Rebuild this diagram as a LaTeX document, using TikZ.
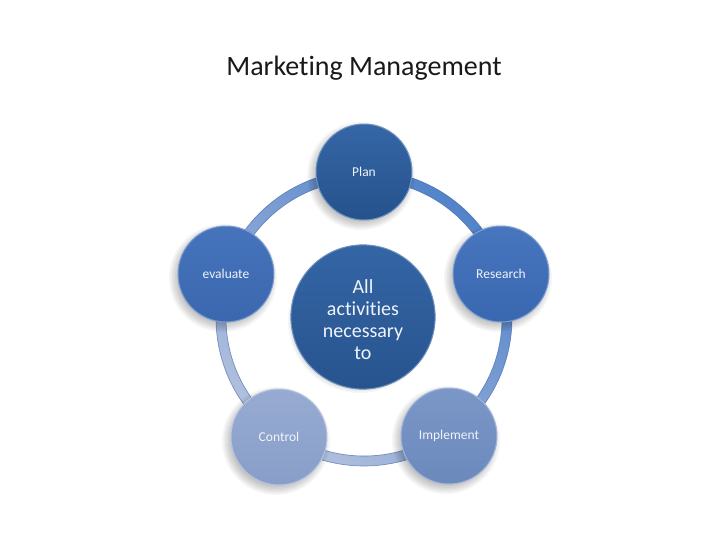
\documentclass[tikz,border=0pt]{standalone}
\usepackage{fontspec}
\setmainfont{Carlito}[Ligatures=NoCommon]
\definecolor{plantop}{HTML}{3566A6}\definecolor{planbot}{HTML}{25528C}
\definecolor{restop}{HTML}{4876BE}\definecolor{resbot}{HTML}{3A68B0}
\definecolor{evtop}{HTML}{4674BC}\definecolor{evbot}{HTML}{3A67AE}
\definecolor{imptop}{HTML}{7B97C8}\definecolor{impbot}{HTML}{6C89BC}
\definecolor{contop}{HTML}{97ABD2}\definecolor{conbot}{HTML}{889EC8}
\definecolor{centop}{HTML}{3465A5}\definecolor{cenbot}{HTML}{27548E}
\definecolor{ringblue}{HTML}{5283CA}\definecolor{ringlight}{HTML}{B3C1DE}
\definecolor{ringedge}{HTML}{3F69A8}
\definecolor{labeltext}{HTML}{F0F4FA}
\begin{document}
\begin{tikzpicture}[x=1pt,y=-1pt,
  ball/.style={circle, inner sep=0pt, text=labeltext, line width=1pt},
  petal/.style={ball, minimum size=96pt, font=\fontsize{13.5}{16}\selectfont},
  hub/.style={ball, minimum size=132pt, align=center, font=\fontsize{20}{22}\selectfont},
  ringline/.style={draw=ringedge, line width=0.6pt, opacity=0.7},
  shadowpart/.style={fill=black, opacity=0.035}
]
\useasboundingbox[fill=white] (0,0) rectangle (728,546);
\node[font=\fontsize{28}{32}\selectfont, text=black!90] (title) at (364,68) {Marketing Management};
\coordinate (c) at (364,318);
\shade[even odd rule, top color=ringblue, bottom color=ringlight, shading angle=-40]
  (c) circle[radius=148pt] (c) circle[radius=138pt];
\draw[ringline] (c) circle[radius=148pt];
\draw[ringline] (c) circle[radius=138pt];
% soft shadows
\foreach \px/\py/\pr in {364/172/48, 501/274/48, 449/436/48, 279/437/48, 226/274/48, 363/317/66}{
  \foreach \k in {0,...,7}{
    \fill[shadowpart] ([xshift=-3pt,yshift=-4pt]\px,\py) circle[radius={(\pr+6-1.5*\k)*1pt}];
  }
}
\node[hub, top color=centop, bottom color=cenbot, draw=centop!70!white] (hubnode) at (363,317) {\raisebox{-3pt}[\height][\depth]{\parbox{120pt}{\centering All\\activities\\necessary\\to}}};
\node[petal, top color=plantop, bottom color=planbot, draw=plantop!70!white] (plan) at (364,172) {Plan};
\node[petal, top color=restop, bottom color=resbot, draw=restop!70!white] (research) at (501,274) {Research};
\node[petal, top color=imptop, bottom color=impbot, draw=imptop!70!white] (implement) at (449,436) {Implement};
\node[petal, top color=contop, bottom color=conbot, draw=contop!70!white] (control) at (279,437) {Control};
\node[petal, top color=evtop, bottom color=evbot, draw=evtop!70!white] (evaluate) at (226,274) {evaluate};
\end{tikzpicture}
\end{document}
